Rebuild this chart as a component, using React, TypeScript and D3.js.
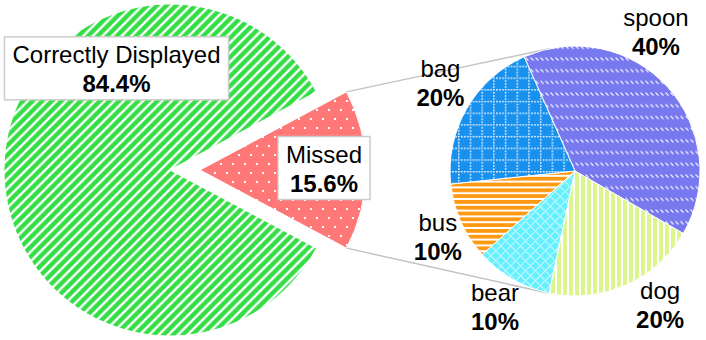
import React, { useEffect, useRef } from "react";
import * as d3 from "d3";

// ---- data ----
const mainCategories = ["Correctly Displayed", "Missed"];
const mainValues = [84.4, 15.6];
const subCategories = ["spoon", "dog", "bear", "bus", "bag"];
const subValues = [40, 20, 10, 10, 20];

// ---- layout / style ----
const W = 706;
const H = 340;
const FONT = "'Liberation Sans', Arial, Helvetica, sans-serif";
const FS = 24;
const mainCenter: [number, number] = [170, 170];
const mainR = 166;
const explode = 30;
const subCenter: [number, number] = [575, 171];
const subR = 125;
const subStartDeg = -24;
const subLabelR = 160;
const subLabelNudge: [number, number][] = [
  [-38, -23],
  [20, -4],
  [0, 6],
  [9, 9],
  [4, 0],
];

const mainColors = ["#33dd44", "#ff7777"];
const subColors = ["#7878ef", "#dcf58c", "#66f0ff", "#ff9911", "#1890ee"];

export default function App() {
  const ref = useRef<SVGSVGElement>(null);

  useEffect(() => {
    const svg = d3.select(ref.current as SVGSVGElement);
    svg.selectAll("*").remove();
    const defs = svg.append("defs");

    // --- patterns ---
    const pat = (id: string, w: number, h: number, bg: string, transform?: string) => {
      const p = defs
        .append("pattern")
        .attr("id", id)
        .attr("patternUnits", "userSpaceOnUse")
        .attr("width", w)
        .attr("height", h);
      if (transform) p.attr("patternTransform", transform);
      p.append("rect").attr("width", w).attr("height", h).attr("fill", bg);
      return p;
    };
    // green diagonal stripes "/" (white lines on green)
    const gs = 9.6;
    const pg = pat("p0", gs, gs, mainColors[0]);
    pg.append("path")
      .attr("d", `M${-gs},${gs} L${gs},${-gs} M0,${gs} L${gs},0 M0,${2 * gs} L${2 * gs},0`)
      .attr("stroke", "#fff")
      .attr("stroke-width", 2.4);
    // red dots
    const pr = pat("p1", 12, 18, mainColors[1]);
    pr.append("rect").attr("x", 2).attr("y", 2).attr("width", 2).attr("height", 2).attr("fill", "#fff");
    pr.append("rect").attr("x", 8).attr("y", 11).attr("width", 2).attr("height", 2).attr("fill", "#fff");
    // spoon: rows of small backslash dashes
    const ps = pat("s0", 5, 11.7, subColors[0]);
    ps.append("path").attr("d", "M0.5,3.5 L3.5,6.5").attr("stroke", "#fff").attr("stroke-width", 1.2);
    // dog: vertical stripes
    const pd = pat("s1", 6, 10, subColors[1]);
    pd.append("rect").attr("x", 4).attr("width", 2).attr("height", 10).attr("fill", "#fff");
    // bear: diagonal cross hatch
    const pb = pat("s2", 7, 7, subColors[2], "rotate(45)");
    pb.append("path").attr("d", "M0.5,0 V7 M0,0.5 H7").attr("stroke", "#fff").attr("stroke-width", 1).attr("stroke-dasharray", "1.5 0.8");
    // bus: horizontal stripes
    const pu = pat("s3", 10, 5.8, subColors[3]);
    pu.append("rect").attr("y", 3.8).attr("width", 10).attr("height", 2).attr("fill", "#fff");
    // bag: dotted grid
    const pa = pat("s4", 11.7, 11.7, subColors[4]);
    pa.append("path")
      .attr("d", "M0.75,0 V11.7 M0,0.75 H11.7")
      .attr("stroke", "#fff")
      .attr("stroke-width", 1.5)
      .attr("stroke-dasharray", "1.5 1.5");

    // --- main pie ---
    const total = d3.sum(mainValues);
    const missedAngle = (2 * Math.PI * mainValues[1]) / total;
    const mainStart = Math.PI / 2 + missedAngle / 2;
    const mainPie = d3
      .pie<number>()
      .sort(null)
      .startAngle(mainStart)
      .endAngle(mainStart + 2 * Math.PI)(mainValues);
    const mainArc = d3.arc<d3.PieArcDatum<number>>().innerRadius(0).outerRadius(mainR);

    const offsets = mainPie.map((d, i) => {
      if (i === 0) return [0, 0];
      const a = (d.startAngle + d.endAngle) / 2;
      return [explode * Math.sin(a), -explode * Math.cos(a)];
    });

    const gMain = svg.append("g");
    gMain
      .selectAll("path")
      .data(mainPie)
      .join("path")
      .attr("transform", (d, i) => `translate(${mainCenter[0] + offsets[i][0]},${mainCenter[1] + offsets[i][1]})`)
      .attr("d", mainArc as any)
      .attr("fill", (d, i) => `url(#p${i})`)
      .attr("stroke", "#fff")
      .attr("stroke-width", 1);

    // --- connector lines (tangents to sub pie) ---
    const missed = mainPie[1];
    const pt = (a: number, r: number, c: [number, number], off: number[]): [number, number] => [
      c[0] + off[0] + r * Math.sin(a),
      c[1] + off[1] - r * Math.cos(a),
    ];
    const topP = pt(missed.startAngle, mainR, mainCenter, offsets[1]);
    const botP = pt(missed.endAngle, mainR, mainCenter, offsets[1]);
    const tangent = (p: [number, number], side: number): [number, number] => {
      const dx = subCenter[0] - p[0];
      const dy = subCenter[1] - p[1];
      const d = Math.hypot(dx, dy);
      const base = Math.atan2(dy, dx);
      const off = Math.asin(subR / d);
      const ang = base + side * off;
      const L = Math.sqrt(d * d - subR * subR);
      return [p[0] + L * Math.cos(ang), p[1] + L * Math.sin(ang)];
    };
    const line = d3.line();
    [
      [topP, tangent(topP, -1)],
      [botP, tangent(botP, 1)],
    ].forEach((seg) => {
      svg
        .append("path")
        .attr("d", line(seg as [number, number][]) as string)
        .attr("stroke", "#c4c4c4")
        .attr("stroke-width", 1.5)
        .attr("fill", "none");
    });

    // --- sub pie ---
    const s0 = (subStartDeg * Math.PI) / 180;
    const subPie = d3
      .pie<number>()
      .sort(null)
      .startAngle(s0)
      .endAngle(s0 + 2 * Math.PI)(subValues);
    const subArc = d3.arc<d3.PieArcDatum<number>>().innerRadius(0).outerRadius(subR);
    const gSub = svg.append("g").attr("transform", `translate(${subCenter[0]},${subCenter[1]})`);
    gSub
      .selectAll("path")
      .data(subPie)
      .join("path")
      .attr("d", subArc as any)
      .attr("fill", (d, i) => `url(#s${i})`)
      .attr("stroke", "#fff")
      .attr("stroke-width", 1);

    // --- labels ---
    const addLabel = (x: number, y: number, l1: string, l2: string, box: boolean) => {
      const g = svg.append("g");
      const t = g
        .append("text")
        .attr("text-anchor", "middle")
        .attr("font-family", FONT)
        .attr("font-size", FS)
        .attr("fill", "#000");
      t.append("tspan").attr("x", x).attr("y", y - 14.5).text(l1);
      t.append("tspan").attr("x", x).attr("y", y + 14.5).attr("font-weight", "bold").text(l2);
      if (box) {
        const bb = (t.node() as SVGTextElement).getBBox();
        g.insert("rect", "text")
          .attr("x", bb.x - 8)
          .attr("y", bb.y - 4)
          .attr("width", bb.width + 16)
          .attr("height", bb.height + 7)
          .attr("fill", "#fff")
          .attr("stroke", "#cccccc")
          .attr("stroke-width", 1.5);
      }
    };
    const pct = (v: number, tot: number) => `${((v / tot) * 100).toFixed(1)}%`;
    // main labels
    const la = (-30 * Math.PI) / 180;
    addLabel(
      mainCenter[0] + 107 * Math.sin(la),
      mainCenter[1] - 107 * Math.cos(la),
      mainCategories[0],
      pct(mainValues[0], total),
      true
    );
    const ma = (missed.startAngle + missed.endAngle) / 2;
    addLabel(
      mainCenter[0] + offsets[1][0] + 124 * Math.sin(ma),
      mainCenter[1] + offsets[1][1] - 124 * Math.cos(ma) + 7,
      mainCategories[1],
      pct(mainValues[1], total),
      true
    );
    const subTotal = d3.sum(subValues);
    subPie.forEach((d, i) => {
      const a = (d.startAngle + d.endAngle) / 2;
      const x = subCenter[0] + subLabelR * Math.sin(a) + subLabelNudge[i][0];
      const y = subCenter[1] - subLabelR * Math.cos(a) + subLabelNudge[i][1];
      addLabel(x, y, subCategories[i], `${Math.round((d.value / subTotal) * 100)}%`, false);
    });
  }, []);

  return (
    <svg
      ref={ref}
      width={W}
      height={H}
      style={{ position: "absolute", left: 0, top: 0, background: "#fff" }}
    />
  );
}
